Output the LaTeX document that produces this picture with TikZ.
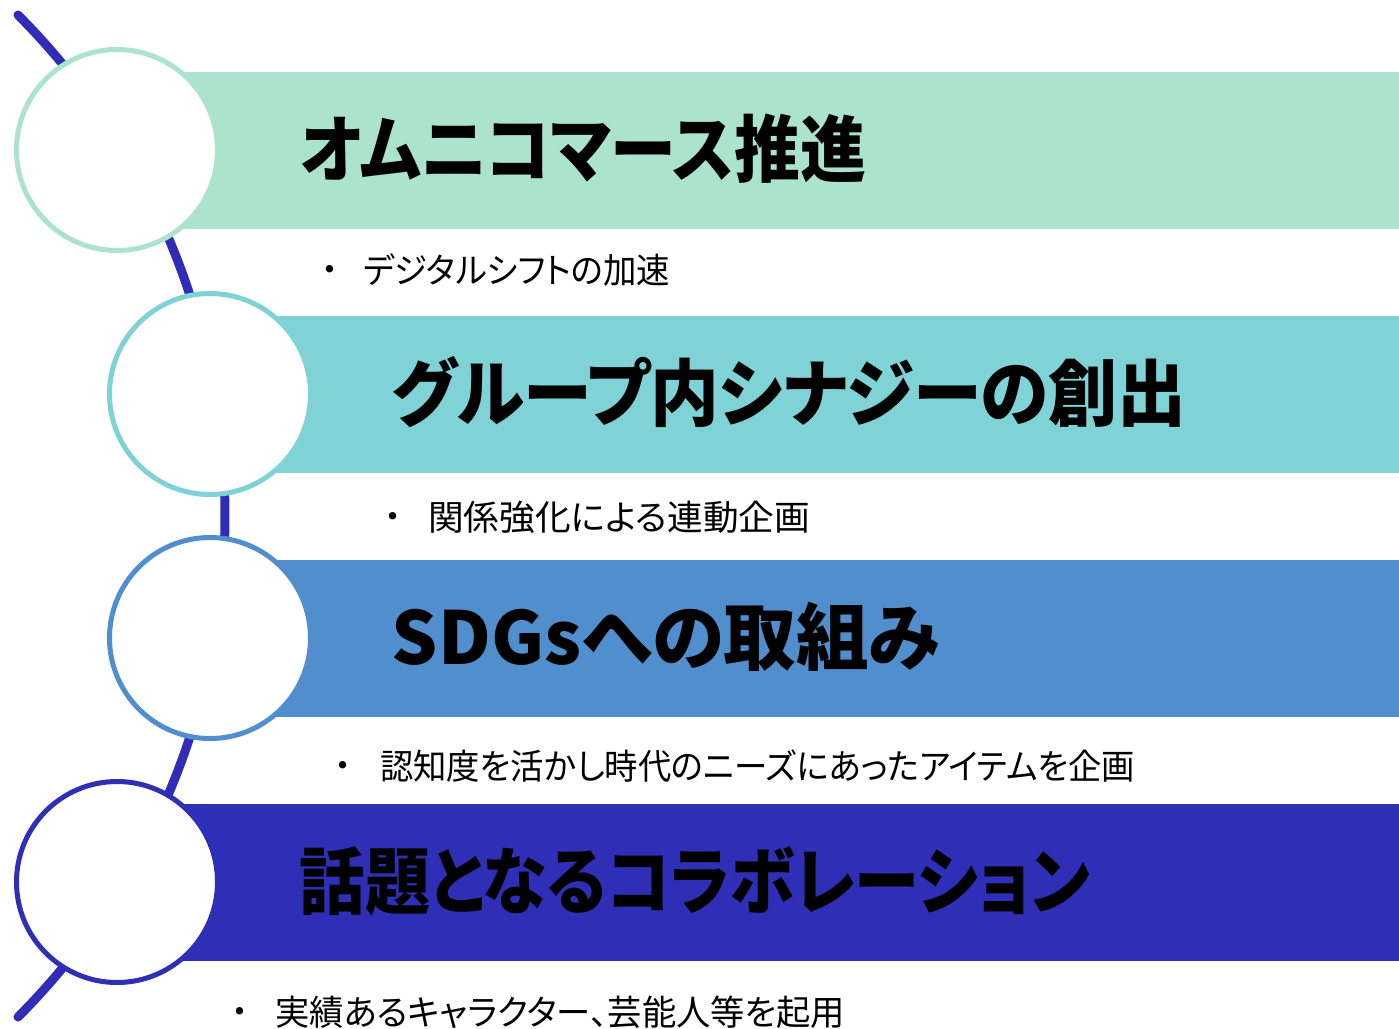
\documentclass[tikz,border=0pt]{standalone}
\usepackage{fontspec}
\usepackage{graphicx}
\newfontfamily\jp[RawFeature=+palt]{Noto Sans CJK JP}
\definecolor{cA}{RGB}{171,227,204}
\definecolor{cB}{RGB}{127,211,215}
\definecolor{cC}{RGB}{80,142,206}
\definecolor{cD}{RGB}{47,46,182}
\definecolor{cLine}{RGB}{48,44,184}
\newcommand{\fitw}[2]{\resizebox{#1}{\height}{#2}}
\tikzset{
  bar/.style={rectangle, inner sep=0pt, outer sep=0pt, minimum height=157pt, anchor=north west},
  ring/.style={circle, fill=white, line width=5pt, minimum size=201pt, inner sep=0pt},
  spine/.style={draw=cLine, line width=9pt, line cap=round},
  title/.style={inner sep=0pt, font=\jp\bfseries\fontsize{73}{80}\selectfont, text=black},
  sub/.style={inner sep=0pt, anchor=west, font=\jp\fontsize{35}{40}\selectfont, text=black},
  bullet/.style={inner sep=0pt, font=\jp\fontsize{35}{40}\selectfont, text=black}
}
\begin{document}
\begin{tikzpicture}[x=1pt,y=1pt]
\useasboundingbox (0,0) rectangle (1399,-1028);
% bars
\node[bar, fill=cA, minimum width=1282pt] (barA) at (117,-72) {};
\node[bar, fill=cB, minimum width=1189pt] (barB) at (210,-316) {};
\node[bar, fill=cC, minimum width=1189pt] (barC) at (210,-560) {};
\node[bar, fill=cD, minimum width=1282pt] (barD) at (117,-804) {};
% spine arc
\coordinate (arcS) at (18,-15);
\draw[spine] (arcS) arc[start angle=44.9, end angle=-44.9, radius=709.8pt];
% circles
\node[ring, draw=cA] (cirA) at (117,-150) {};
\node[ring, draw=cB] (cirB) at (210,-394) {};
\node[ring, draw=cC] (cirC) at (210,-638) {};
\node[ring, draw=cD] (cirD) at (117,-882) {};
% titles
\node[title] (tA) at (583,-149) {\fitw{566pt}{オムニコマース推進}};
\node[title] (tB) at (789,-392) {\fitw{794pt}{グループ内シナジーの創出}};
\node[title] (tC) at (666,-637) {\fitw{548pt}{SDGsへの取組み}};
\node[title] (tD) at (695,-881) {\fitw{790pt}{話題となるコラボレーション}};
% sub items
\node[bullet] (bA) at (330,-274) {・};
\node[sub] (sA) at (363,-270) {\fitw{307pt}{デジタルシフトの加速}};
\node[bullet] (bB) at (393,-521) {・};
\node[sub] (sB) at (428,-517) {\fitw{382pt}{関係強化による連動企画}};
\node[bullet] (bC) at (343,-770) {・};
\node[sub] (sC) at (380,-766) {\fitw{755pt}{認知度を活かし時代のニーズにあったアイテムを企画}};
\node[bullet] (bD) at (240,-1016) {・};
\node[sub] (sD) at (275,-1012) {\fitw{570pt}{実績あるキャラクター、芸能人等を起用}};
\end{tikzpicture}
\end{document}
